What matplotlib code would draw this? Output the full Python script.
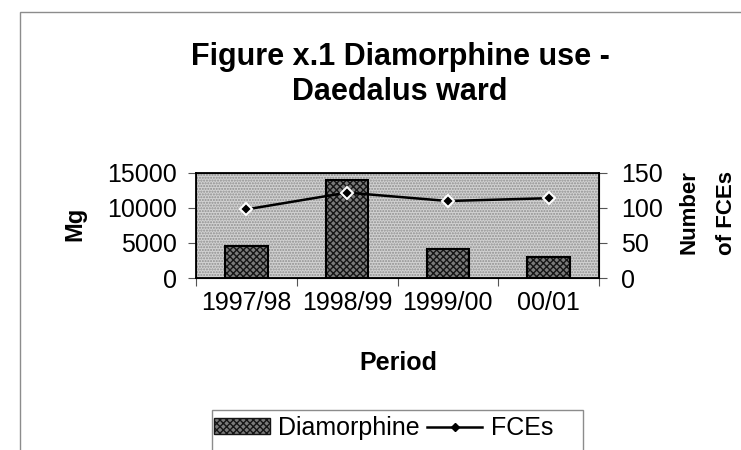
import matplotlib.pyplot as plt
from matplotlib.patches import Patch, Rectangle
from matplotlib.lines import Line2D

plt.rcParams['font.family'] = ['Liberation Sans', 'DejaVu Sans']

periods = ['1997/98', '1998/99', '1999/00', '00/01']
diamorphine = [4500, 14000, 4100, 3000]
fces = [98, 122, 110, 114]

W, H = 741, 450
fig = plt.figure(figsize=(W / 100, H / 100), dpi=100)


def fx(px):
    return px / W


def fy(py):
    return 1 - py / H


# outer chart frame, cut off at the right and bottom like the source
fig.patches.append(Rectangle((fx(20), -0.1), 1.0, fy(12) + 0.1,
                             transform=fig.transFigure, fill=False,
                             edgecolor='#8c8c8c', lw=1.0))

ax = fig.add_axes([fx(196), fy(278), fx(403), 105 / H])
ax.set_facecolor('#d2d2d2')
ax.add_patch(Rectangle((0, 0), 1, 1, transform=ax.transAxes, facecolor='none',
                       edgecolor='#8e8e8e', hatch='......', lw=0, zorder=0))

x = range(len(periods))
ax.bar(x, diamorphine, width=0.42, color='#7a7a7a', hatch='xxxxx',
       edgecolor='#151515', lw=0, zorder=2)
ax.bar(x, diamorphine, width=0.42, color='none', edgecolor='black', lw=1.5, zorder=3)

ax.set_xlim(-0.5, 3.5)
ax.set_ylim(0, 15000)
ax.set_yticks([0, 5000, 10000, 15000])
ax.set_xticks([-0.5, 0.5, 1.5, 2.5, 3.5])
ax.set_xticklabels([])
ax.set_xticks(list(x), minor=True)
ax.set_xticklabels(periods, minor=True)
ax.tick_params(axis='x', which='minor', length=0, pad=9, labelsize=18)
ax.tick_params(axis='x', which='major', length=6, direction='out', color='#555555')
ax.tick_params(axis='y', labelsize=18, length=6, pad=8, direction='out', color='#555555')
for s in ax.spines.values():
    s.set_linewidth(1.3)

ax2 = ax.twinx()
ax2.plot(x, fces, color='black', lw=1.8, marker='D', markersize=6,
         markerfacecolor='black', markeredgecolor='white', mew=1.5, zorder=5)
ax2.set_ylim(0, 150)
ax2.set_yticks([0, 50, 100, 150])
ax2.tick_params(axis='y', labelsize=18, length=6, pad=10, direction='out', color='#555555')

# axis titles
fig.text(fx(75), fy(224), 'Mg', rotation=90, ha='center', va='center',
         fontsize=17, fontweight='bold')
fig.text(fx(398), fy(363), 'Period', ha='center', va='center',
         fontsize=18, fontweight='bold')
fig.text(fx(689), fy(212), 'Number', rotation=90, ha='center', va='center',
         fontsize=16, fontweight='bold')
fig.text(fx(727), fy(213), 'of FCEs', rotation=90, ha='center', va='center',
         fontsize=16, fontweight='bold')

# chart title
fig.text(fx(400), fy(65), 'Figure x.1 Diamorphine use -', ha='center', va='baseline',
         fontsize=22, fontweight='bold')
fig.text(fx(400), fy(100), 'Daedalus ward', ha='center', va='baseline',
         fontsize=22, fontweight='bold')

# legend (its box runs off the bottom edge in the source)
fig.patches.append(Rectangle((fx(212), -0.1), fx(583 - 212), fy(410) + 0.1,
                             transform=fig.transFigure, fill=False,
                             edgecolor='#8c8c8c', lw=1.0))
handles = [Patch(facecolor='#7a7a7a', hatch='xxxxx', edgecolor='#151515'),
           Line2D([], [], color='black', lw=1.8, marker='D', markersize=4)]
fig.legend(handles, ['Diamorphine', 'FCEs'], loc='center left',
           bbox_to_anchor=(fx(212), fy(428)), ncol=2, fontsize=18,
           frameon=False, handlelength=2.2, handleheight=0.6,
           handletextpad=0.35, columnspacing=0.3, borderpad=0.1,
           borderaxespad=0)

fig.savefig('out.png', dpi=100)
